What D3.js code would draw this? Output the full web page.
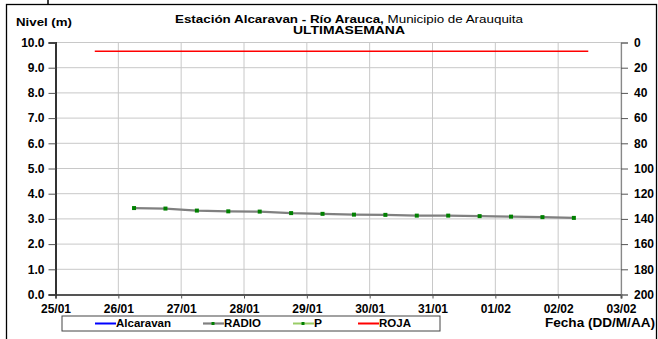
<!DOCTYPE html>
<meta charset="utf-8">
<style>
  body { margin: 0; background: #fff; }
  text { font-family: Arial, "Liberation Sans", sans-serif; }
</style>
<svg width="658" height="339"></svg>
<script src="https://d3js.org/d3.v7.min.js"></script>
<script>

// data
var dayTicks = ["2012-01-25", "2012-01-26", "2012-01-27", "2012-01-28", "2012-01-29",
                "2012-01-30", "2012-01-31", "2012-02-01", "2012-02-02", "2012-02-03"];
var pTimes = ["2012-01-26T06:00", "2012-01-26T18:00", "2012-01-27T06:00", "2012-01-27T18:00",
              "2012-01-28T06:00", "2012-01-28T18:00", "2012-01-29T06:00", "2012-01-29T18:00",
              "2012-01-30T06:00", "2012-01-30T18:00", "2012-01-31T06:00", "2012-01-31T18:00",
              "2012-02-01T06:00", "2012-02-01T18:00", "2012-02-02T06:00"];
var pValues = [3.43, 3.41, 3.33, 3.30, 3.29, 3.23, 3.20, 3.17, 3.16, 3.13, 3.13, 3.11, 3.09, 3.07, 3.04];
var rojaTimes = ["2012-01-25T15:00", "2012-02-02T11:30"];
var rojaValues = [9.65, 9.65];
var leftTicks = [0, 1, 2, 3, 4, 5, 6, 7, 8, 9, 10];
var rightTicks = [0, 20, 40, 60, 80, 100, 120, 140, 160, 180, 200];
var legendItems = ["Alcaravan", "RADIO", "P", "ROJA"];

var parse = d3.isoParse;

var svg = d3.select("svg"),
    margin = {top: 42.5, right: 37, bottom: 44.5, left: 55.5},
    width = +svg.attr("width") - margin.left - margin.right,
    height = +svg.attr("height") - margin.top - margin.bottom;

var x = d3.scaleTime()
    .domain([parse(dayTicks[0]), parse(dayTicks[dayTicks.length - 1])])
    .range([0, width]);
var y = d3.scaleLinear().domain([0, 10]).range([height, 0]);
var y2 = d3.scaleLinear().domain([0, 200]).range([0, height]);

// outer frame
svg.append("rect")
    .attr("x", 6.5).attr("y", 4.5)
    .attr("width", 650).attr("height", 340)
    .attr("fill", "none").attr("stroke", "#000").attr("stroke-width", 1.3);
svg.append("line")
    .attr("x1", 48).attr("x2", 48).attr("y1", 0).attr("y2", 4)
    .attr("stroke", "#000").attr("stroke-width", 1.5);

var g = svg.append("g")
    .attr("transform", "translate(" + margin.left + "," + margin.top + ")");

// grid
g.append("g")
  .selectAll("line")
  .data(leftTicks)
  .enter().append("line")
    .attr("x1", 0).attr("x2", width)
    .attr("y1", function(d) { return y(d); })
    .attr("y2", function(d) { return y(d); })
    .attr("stroke", "#c8c8c8").attr("stroke-width", 1);

g.append("g")
  .selectAll("line")
  .data(dayTicks)
  .enter().append("line")
    .attr("x1", function(d) { return x(parse(d)); })
    .attr("x2", function(d) { return x(parse(d)); })
    .attr("y1", 0).attr("y2", height)
    .attr("stroke", "#c8c8c8").attr("stroke-width", 1);

// axes
var fmtDay = d3.timeFormat("%d/%m");

var xAxis = g.append("g")
    .attr("transform", "translate(0," + height + ")")
    .call(d3.axisBottom(x)
      .tickValues(dayTicks.map(parse))
      .tickFormat(fmtDay)
      .tickSize(4)
      .tickPadding(4));

var yAxis = g.append("g")
    .call(d3.axisLeft(y)
      .tickValues(leftTicks)
      .tickFormat(d3.format(".1f"))
      .tickSize(7)
      .tickPadding(4));

var yAxis2 = g.append("g")
    .attr("transform", "translate(" + width + ",0)")
    .call(d3.axisRight(y2)
      .tickValues(rightTicks)
      .tickSize(7)
      .tickPadding(6));

[xAxis, yAxis, yAxis2].forEach(function(a) {
  a.selectAll("text")
    .attr("font-size", "12px")
    .attr("font-weight", "bold")
    .attr("fill", "#000");
  a.selectAll("line").attr("stroke", "#555");
});
xAxis.select(".domain").attr("stroke", "#555").attr("stroke-width", 2);
yAxis.select(".domain").attr("stroke", "#333").attr("stroke-width", 2);
yAxis2.select(".domain").attr("stroke", "#888").attr("stroke-width", 1.2);
xAxis.selectAll("text").attr("dy", "0.85em");

// series
var line = d3.line()
    .x(function(d) { return x(d.t); })
    .y(function(d) { return y(d.v); });

var roja = rojaTimes.map(function(t, i) { return {t: parse(t), v: rojaValues[i]}; });
var pts = pTimes.map(function(t, i) { return {t: parse(t), v: pValues[i]}; });

g.append("path")
    .datum(roja)
    .attr("d", line)
    .attr("fill", "none")
    .attr("stroke", "#ff0000")
    .attr("stroke-width", 1.6);

g.append("path")
    .datum(pts)
    .attr("d", line)
    .attr("fill", "none")
    .attr("stroke", "#808080")
    .attr("stroke-width", 2.2);

g.selectAll(".pt")
    .data(pts)
  .enter().append("rect")
    .attr("class", "pt")
    .attr("x", function(d) { return x(d.t) - 2; })
    .attr("y", function(d) { return y(d.v) - 2; })
    .attr("width", 4).attr("height", 4)
    .attr("fill", "#008000");

// titles
var title = svg.append("text")
    .attr("x", 175).attr("y", 23)
    .attr("font-size", "11px")
    .attr("textLength", 348)
    .attr("lengthAdjust", "spacingAndGlyphs");
title.append("tspan").attr("font-weight", "bold").text("Estación Alcaravan - Río Arauca,");
title.append("tspan").text(" Municipio de Arauquita");

svg.append("text")
    .attr("x", 293).attr("y", 34)
    .attr("font-size", "10px")
    .attr("font-weight", "bold")
    .attr("textLength", 112)
    .attr("lengthAdjust", "spacingAndGlyphs")
    .text("ULTIMASEMANA");

svg.append("text")
    .attr("x", 16).attr("y", 26)
    .attr("font-size", "11.5px")
    .attr("font-weight", "bold")
    .attr("textLength", 56)
    .attr("lengthAdjust", "spacingAndGlyphs")
    .text("Nivel (m)");

svg.append("text")
    .attr("x", 545).attr("y", 327)
    .attr("font-size", "12px")
    .attr("font-weight", "bold")
    .attr("textLength", 110)
    .attr("lengthAdjust", "spacingAndGlyphs")
    .text("Fecha (DD/M/AA)");

// legend
var legend = svg.append("g").attr("transform", "translate(62,316)");
legend.append("rect")
    .attr("width", 378).attr("height", 15)
    .attr("fill", "#fff").attr("stroke", "#444").attr("stroke-width", 1);

var legendX = [33, 141, 231, 296];
var legendTextLen = [55, 37, 8, 32];
var legendColors = ["#0000ff", "#808080", "#99cc66", "#ff0000"];

var item = legend.selectAll(".item")
    .data(legendItems)
  .enter().append("g")
    .attr("class", "item")
    .attr("transform", function(d, i) { return "translate(" + legendX[i] + ",7.5)"; });

item.append("line")
    .attr("x1", 0).attr("x2", 21)
    .attr("stroke", function(d, i) { return legendColors[i]; })
    .attr("stroke-width", function(d, i) { return i === 1 ? 2.2 : 2; });

item.filter(function(d, i) { return i === 1 || i === 2; })
  .append("rect")
    .attr("x", 8.5).attr("y", -1.5)
    .attr("width", 3).attr("height", 3)
    .attr("fill", "#008000");

item.append("text")
    .attr("x", 21)
    .attr("dy", "0.35em")
    .attr("font-size", "10px")
    .attr("font-weight", "bold")
    .attr("textLength", function(d, i) { return legendTextLen[i]; })
    .attr("lengthAdjust", "spacingAndGlyphs")
    .text(function(d) { return d; });

</script>
